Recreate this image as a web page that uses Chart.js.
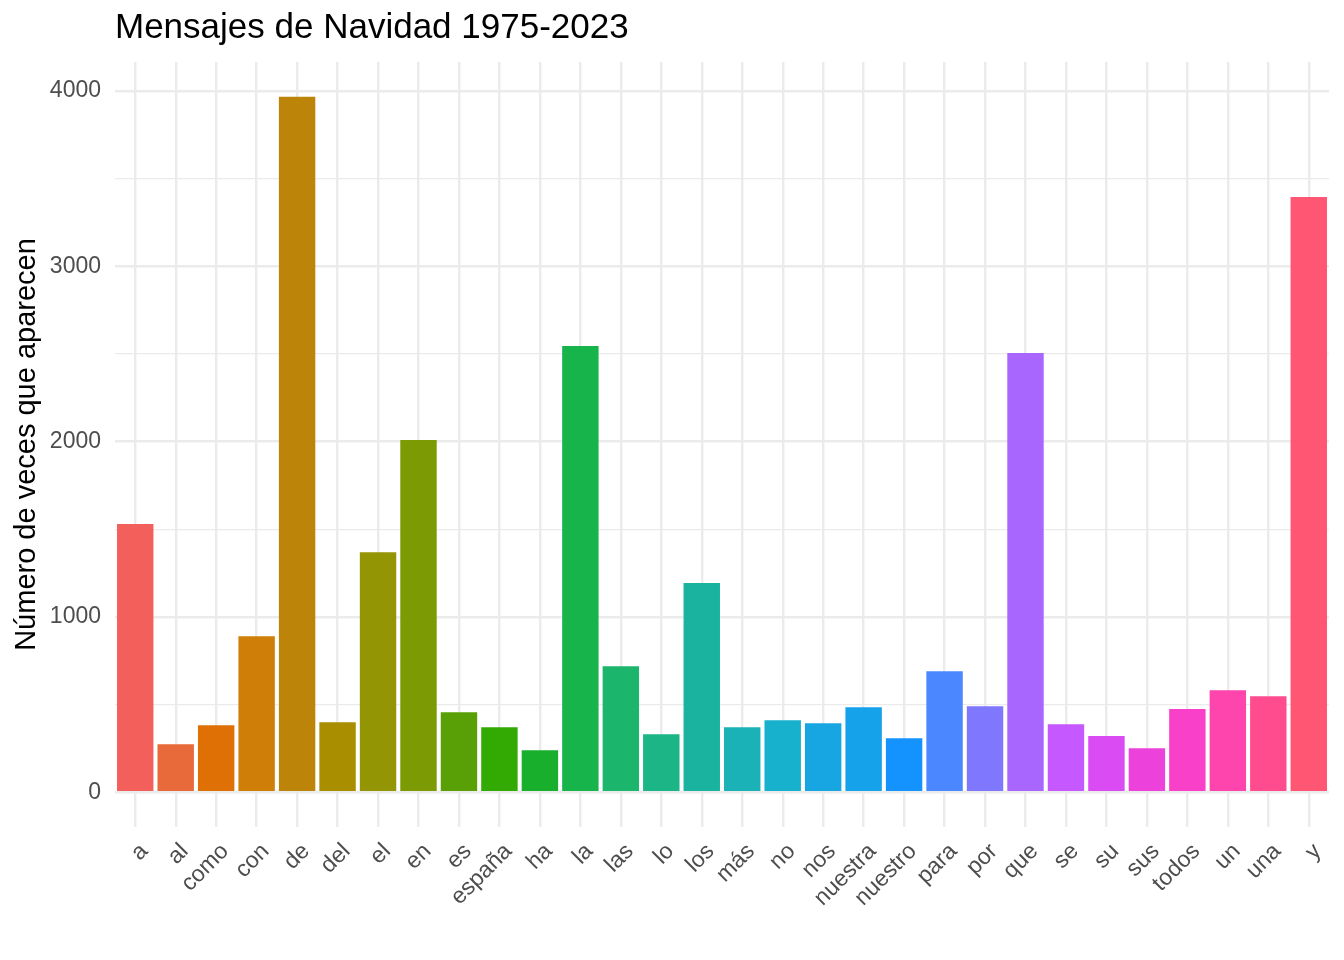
<!DOCTYPE html>
<html>
<head>
<meta charset="utf-8">
<script src="https://cdn.jsdelivr.net/npm/chart.js@4.4.1/dist/chart.umd.min.js"></script>
<style>
  body { margin: 0; background: #fff; }
  #wrap { width: 1344px; height: 960px; position: relative; }
</style>
</head>
<body>
<div id="wrap"><canvas id="bar-words"></canvas></div>
<script>
// words and how often they appear
const palabras = ["a", "al", "como", "con", "de", "del", "el", "en", "es", "españa",
  "ha", "la", "las", "lo", "los", "más", "no", "nos", "nuestra", "nuestro",
  "para", "por", "que", "se", "su", "sus", "todos", "un", "una", "y"];
const veces = [1529, 274, 382, 890, 3966, 399, 1369, 2009, 456, 371,
  240, 2545, 719, 331, 1193, 371, 411, 394, 485, 308,
  690, 491, 2505, 388, 320, 251, 474, 582, 548, 3395];
const yTicks = [0, 500, 1000, 1500, 2000, 2500, 3000, 3500, 4000];

// ggplot hue colours
const colores = ["#F35F5B", "#E8693A", "#DE7006", "#CF7E08", "#BC8509", "#A98E00",
  "#949504", "#7B9A03", "#58A005", "#33AA03", "#18AF2C", "#17B34B",
  "#1CB56C", "#1BB586", "#19B3A0", "#1AB2B7", "#17B0CD", "#18A6E2",
  "#16A1EB", "#1493FF", "#4B88FF", "#8077FF", "#A866FF", "#C558FF",
  "#DB4BF3", "#EC41DB", "#F840C8", "#FE44AD", "#FF4C8E", "#FF5673"];

Chart.defaults.font.family = "'Liberation Sans', Arial, sans-serif";
Chart.defaults.animation = false;

const ctx = document.getElementById('bar-words');

const chartWords = new Chart(ctx, {
  type: "bar",
  data: {
    labels: palabras,
    datasets: [{
      data: veces,
      backgroundColor: colores,
      barPercentage: 0.9,
      categoryPercentage: 1.0
    }]
  },
  options: {
    responsive: true,
    maintainAspectRatio: false,
    layout: { padding: { left: 0, right: 15, top: 0, bottom: 0 } },
    plugins: {
      legend: { display: false },
      tooltip: { enabled: false },
      title: {
        display: true,
        text: "Mensajes de Navidad 1975-2023",
        align: "start",
        fullSize: false,
        color: "#000",
        font: { size: 35, weight: "normal" },
        padding: { top: 7, bottom: 13 }
      }
    },
    scales: {
      x: {
        offset: true,
        grid: { offset: false, color: "#EBEBEB", lineWidth: 2.4, drawTicks: false },
        border: { display: false },
        ticks: {
          color: "#4D4D4D",
          font: { size: 23 },
          maxRotation: 45,
          minRotation: 45,
          padding: 11,
          labelOffset: 9,
          autoSkip: false
        },
        afterFit: (scale) => { scale.height = 133; }
      },
      y: {
        min: -198.3,
        max: 4164.3,
        afterBuildTicks: (scale) => { scale.ticks = yTicks.map(v => ({ value: v })); },
        grid: {
          color: "#EBEBEB",
          lineWidth: (c) => (c.tick && c.tick.value % 1000 === 0) ? 2.4 : 1.2,
          drawTicks: false
        },
        border: { display: false },
        ticks: {
          color: "#4D4D4D",
          font: { size: 23 },
          padding: 14,
          callback: (v) => (v % 1000 === 0 ? String(v) : "")
        },
        title: {
          display: true,
          text: "Número de veces que aparecen",
          color: "#000",
          font: { size: 29 },
          padding: { top: 10, bottom: 0 }
        },
        afterFit: (scale) => { scale.width = 115; }
      }
    }
  }
});
</script>
</body>
</html>
